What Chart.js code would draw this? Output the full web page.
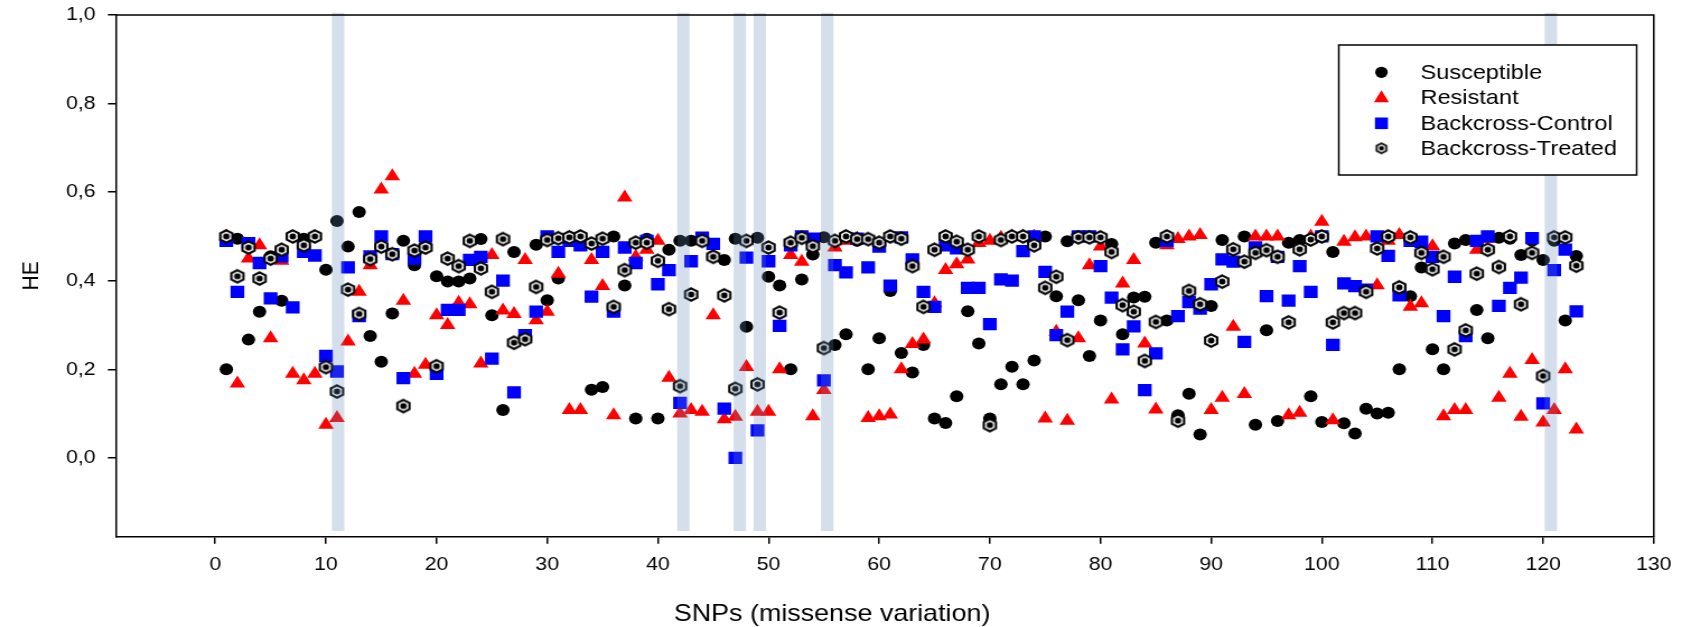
<!DOCTYPE html>
<html>
<head>
<meta charset="utf-8">
<title>HE per SNP</title>
<script src="https://cdn.jsdelivr.net/npm/chart.js@4.4.1/dist/chart.umd.min.js"></script>
<style>
  html, body { margin: 0; padding: 0; background: #fff; }
</style>
</head>
<body>
<!-- the original figure is stretched sideways, so the canvas is drawn narrower and widened by css -->
<canvas id="heChart" width="1502" height="627" style="width:1682px;height:627px"></canvas>
<script>
const snps = Array.from({ length: 123 }, (_, i) => i + 1);

const susceptible = [
  0.20, 0.495, 0.267, 0.33, 0.455, 0.355, 0.5, 0.495, 0.5, 0.425,
  0.535, 0.477, 0.555, 0.275, 0.217, 0.326, 0.49, 0.435, 0.48, 0.41,
  0.398, 0.398, 0.405, 0.494, 0.322, 0.108, 0.465, 0.27, 0.481, 0.356,
  0.405, 0.498, 0.5, 0.154, 0.16, 0.5, 0.389, 0.089, 0.495, 0.089,
  0.47, 0.49, 0.49, 0.49, 0.455, 0.447, 0.495, 0.296, 0.497, 0.409,
  0.389, 0.2, 0.403, 0.459, 0.498, 0.255, 0.279, 0.49, 0.2, 0.27,
  0.377, 0.237, 0.193, 0.255, 0.089, 0.079, 0.139, 0.331, 0.258, 0.089,
  0.166, 0.206, 0.166, 0.22, 0.5, 0.365, 0.489, 0.356, 0.23, 0.31,
  0.483, 0.279, 0.362, 0.364, 0.486, 0.31, 0.096, 0.145, 0.053, 0.343,
  0.492, 0.47, 0.5, 0.075, 0.288, 0.083, 0.486, 0.492, 0.139, 0.081,
  0.465, 0.078, 0.055, 0.111, 0.1, 0.102, 0.2, 0.365, 0.43, 0.245,
  0.2, 0.484, 0.492, 0.334, 0.27, 0.497, 0.495, 0.458, 0.49, 0.447,
  0.49, 0.31, 0.456
];

const resistant = [
  0.5, 0.168, 0.45, 0.48, 0.27, 0.445, 0.19, 0.175, 0.19, 0.075,
  0.09, 0.263, 0.375, 0.435, 0.606, 0.636, 0.355, 0.19, 0.21, 0.322,
  0.3, 0.35, 0.347, 0.213, 0.458, 0.333, 0.325, 0.447, 0.311, 0.33,
  0.416, 0.108, 0.108, 0.447, 0.388, 0.096, 0.588, 0.454, 0.47, 0.49,
  0.181, 0.1, 0.108, 0.104, 0.322, 0.087, 0.093, 0.205, 0.104, 0.104,
  0.2, 0.458, 0.443, 0.094, 0.153, 0.475, 0.49, 0.495, 0.09, 0.094,
  0.098, 0.2, 0.257, 0.267, 0.349, 0.424, 0.437, 0.448, 0.485, 0.49,
  0.497, 0.5, 0.5, 0.5, 0.089, 0.285, 0.084, 0.27, 0.435, 0.477,
  0.132, 0.394, 0.447, 0.258, 0.109, 0.48, 0.494, 0.5, 0.503, 0.108,
  0.136, 0.296, 0.144, 0.5, 0.5, 0.5, 0.096, 0.102, 0.5, 0.533,
  0.085, 0.488, 0.498, 0.5, 0.39, 0.49, 0.503, 0.341, 0.349, 0.478,
  0.094, 0.108, 0.108, 0.47, 0.495, 0.136, 0.19, 0.093, 0.221, 0.08,
  0.108, 0.2, 0.064
];

const backcrossControl = [
  0.49, 0.375, 0.485, 0.44, 0.36, 0.455, 0.34, 0.465, 0.457, 0.23,
  0.195, 0.43, 0.32, 0.455, 0.5, 0.46, 0.18, 0.45, 0.5, 0.19,
  0.334, 0.334, 0.447, 0.454, 0.224, 0.4, 0.148, 0.277, 0.33, 0.5,
  0.465, 0.49, 0.48, 0.364, 0.465, 0.33, 0.475, 0.44, 0.49, 0.392,
  0.424, 0.124, 0.444, 0.497, 0.483, 0.111, 0.0, 0.452, 0.062, 0.444,
  0.298, 0.48, 0.5, 0.495, 0.175, 0.435, 0.419, 0.495, 0.43, 0.477,
  0.389, 0.498, 0.448, 0.375, 0.341, 0.48, 0.473, 0.384, 0.384, 0.302,
  0.403, 0.4, 0.467, 0.5, 0.42, 0.277, 0.33, 0.5, 0.5, 0.433,
  0.362, 0.245, 0.297, 0.153, 0.236, 0.49, 0.32, 0.352, 0.337, 0.392,
  0.448, 0.443, 0.262, 0.475, 0.365, 0.454, 0.355, 0.433, 0.375, 0.5,
  0.255, 0.394, 0.388, 0.38, 0.5, 0.456, 0.367, 0.49, 0.488, 0.454,
  0.32, 0.409, 0.275, 0.49, 0.5, 0.343, 0.384, 0.407, 0.496, 0.123,
  0.424, 0.47, 0.331
];

const backcrossTreated = [
  0.5, 0.41, 0.475, 0.405, 0.45, 0.47, 0.5, 0.48, 0.5, 0.205,
  0.15, 0.38, 0.325, 0.449, 0.477, 0.46, 0.117, 0.468, 0.475, 0.207,
  0.45, 0.433, 0.49, 0.428, 0.375, 0.494, 0.26, 0.268, 0.386, 0.492,
  0.496, 0.498, 0.5, 0.484, 0.495, 0.341, 0.424, 0.486, 0.486, 0.445,
  0.336, 0.162, 0.369, 0.49, 0.454, 0.367, 0.156, 0.49, 0.166, 0.475,
  0.328, 0.486, 0.497, 0.478, 0.248, 0.49, 0.5, 0.494, 0.494, 0.486,
  0.5, 0.495, 0.433, 0.341, 0.47, 0.5, 0.488, 0.47, 0.5, 0.074,
  0.492, 0.5, 0.5, 0.48, 0.384, 0.409, 0.266, 0.498, 0.498, 0.498,
  0.465, 0.345, 0.33, 0.219, 0.307, 0.5, 0.084, 0.377, 0.347, 0.265,
  0.398, 0.471, 0.443, 0.463, 0.469, 0.454, 0.306, 0.471, 0.493, 0.5,
  0.306, 0.327, 0.327, 0.375, 0.473, 0.5, 0.385, 0.498, 0.463, 0.426,
  0.454, 0.245, 0.288, 0.416, 0.47, 0.431, 0.5, 0.347, 0.463, 0.185,
  0.498, 0.498, 0.434
];

// highlighted SNP columns (shaded bands)
const highlightSnps = [11.1, 42.3, 47.4, 49.2, 55.3, 120.7];

const xTicks = [0, 10, 20, 30, 40, 50, 60, 70, 80, 90, 100, 110, 120, 130];
const yTicks = [0, 0.2, 0.4, 0.6, 0.8, 1.0];
const yTickLabels = ["0,0", "0,2", "0,4", "0,6", "0,8", "1,0"];

const seriesNames = ["Susceptible", "Resistant", "Backcross-Control", "Backcross-Treated"];
const xTitle = "SNPs (missense variation)";

Chart.defaults.font.family = "'Liberation Sans', Arial, sans-serif";
Chart.defaults.color = "#000";

// hexagon with a dot, used for Backcross-Treated
function makeHexagon(r, lw, dot) {
    const size = Math.ceil(2 * r + lw + 2);
    const c = document.createElement("canvas");
    c.width = size;
    c.height = size;
    const g = c.getContext("2d");
    const cx = size / 2, cy = size / 2;
    g.beginPath();
    for (let i = 0; i < 6; i++) {
        const a = -Math.PI / 2 + i * Math.PI / 3;
        const px = cx + r * Math.cos(a), py = cy + r * Math.sin(a);
        if (i === 0) g.moveTo(px, py); else g.lineTo(px, py);
    }
    g.closePath();
    g.fillStyle = "#fff";
    g.fill();
    g.lineWidth = lw;
    g.strokeStyle = "#000";
    g.stroke();
    g.beginPath();
    g.arc(cx, cy, dot, 0, Math.PI * 2);
    g.fillStyle = "#000";
    g.fill();
    return c;
}

const hexMarker = makeHexagon(6.2, 2.1, 2.9);
const hexLegend = makeHexagon(5, 1.8, 2.3);

function toPoints(values) {
    return values.map((v, i) => ({ x: snps[i], y: v }));
}

const bandPlugin = {
    id: "bands",
    afterDatasetsDraw(chart) {
        const { ctx, scales: { x, y } } = chart;
        ctx.save();
        ctx.fillStyle = "rgba(95, 135, 180, 0.27)";
        const top = y.getPixelForValue(1.005);
        const bottom = y.getPixelForValue(-0.165);
        highlightSnps.forEach(c => {
            const x1 = x.getPixelForValue(c - 0.56);
            const x2 = x.getPixelForValue(c + 0.56);
            ctx.fillRect(x1, top, x2 - x1, bottom - top);
        });
        ctx.restore();
    }
};

// closes the box on top and right, and writes the x title a bit left of centre like the original
const framePlugin = {
    id: "frame",
    afterDraw(chart) {
        const { ctx, chartArea: a } = chart;
        ctx.save();
        ctx.strokeStyle = "#000";
        ctx.lineWidth = 1.5;
        ctx.beginPath();
        ctx.moveTo(a.left, a.top);
        ctx.lineTo(a.right, a.top);
        ctx.lineTo(a.right, a.bottom);
        ctx.stroke();

        ctx.fillStyle = "#000";
        ctx.font = "24px 'Liberation Sans', Arial, sans-serif";
        ctx.textAlign = "center";
        ctx.textBaseline = "middle";
        ctx.fillText(xTitle, 743, 614);
        ctx.restore();
    }
};

const legendPlugin = {
    id: "boxLegend",
    afterDraw(chart) {
        const ctx = chart.ctx;
        ctx.save();
        ctx.fillStyle = "#fff";
        ctx.fillRect(1195.5, 45, 266, 130);
        ctx.strokeStyle = "#000";
        ctx.lineWidth = 1.5;
        ctx.strokeRect(1195.5, 45, 266, 130);

        const mx = 1233.6, tx = 1268.5;
        const rows = [72.3, 97.7, 123.3, 148.3];

        ctx.fillStyle = "#000";
        ctx.beginPath();
        ctx.arc(mx, rows[0], 5.6, 0, Math.PI * 2);
        ctx.fill();

        ctx.fillStyle = "#ff0000";
        ctx.beginPath();
        ctx.moveTo(mx, rows[1] - 7.5);
        ctx.lineTo(mx + 6.7, rows[1] + 4.5);
        ctx.lineTo(mx - 6.7, rows[1] + 4.5);
        ctx.closePath();
        ctx.fill();

        ctx.fillStyle = "#0000ff";
        ctx.fillRect(mx - 5.8, rows[2] - 5.8, 11.6, 11.6);

        ctx.drawImage(hexLegend, mx - hexLegend.width / 2, rows[3] - hexLegend.height / 2);

        ctx.fillStyle = "#000";
        ctx.font = "21px 'Liberation Sans', Arial, sans-serif";
        ctx.textBaseline = "middle";
        seriesNames.forEach((name, i) => ctx.fillText(name, tx, rows[i] + 1));
        ctx.restore();
    }
};

new Chart(document.getElementById("heChart"), {
    type: "scatter",
    data: {
        datasets: [
            {
                label: seriesNames[0],
                data: toPoints(susceptible),
                pointStyle: "circle",
                pointRadius: 6,
                backgroundColor: "#000",
                borderWidth: 0,
                order: 4
            },
            {
                label: seriesNames[1],
                data: toPoints(resistant),
                pointStyle: "triangle",
                pointRadius: 8,
                backgroundColor: "#ff0000",
                borderWidth: 0,
                order: 3
            },
            {
                label: seriesNames[2],
                data: toPoints(backcrossControl),
                pointStyle: "rect",
                pointRadius: 8.7,
                backgroundColor: "#0000ff",
                borderWidth: 0,
                order: 2
            },
            {
                label: seriesNames[3],
                data: toPoints(backcrossTreated),
                pointStyle: hexMarker,
                pointRadius: 6.5,
                borderWidth: 0,
                order: 1
            }
        ]
    },
    options: {
        responsive: false,
        devicePixelRatio: 1,
        animation: false,
        layout: { padding: { left: 0, top: 15, right: 25.2, bottom: 0 } },
        plugins: {
            legend: { display: false },
            tooltip: { enabled: false }
        },
        scales: {
            x: {
                type: "linear",
                min: -9,
                max: 130,
                afterBuildTicks: s => { s.ticks = xTicks.map(v => ({ value: v })); },
                afterFit: s => { s.height = 90.3; s.paddingLeft = 0; s.paddingRight = 0; },
                ticks: { font: { size: 19 }, color: "#000", padding: 10, maxRotation: 0, autoSkip: false },
                grid: { drawOnChartArea: false, drawTicks: true, tickLength: 7, color: "#000", lineWidth: 1.5 },
                border: { display: true, color: "#000", width: 1.5 },
                title: { display: false, text: xTitle }
            },
            y: {
                min: -0.178,
                max: 1.0,
                afterBuildTicks: s => { s.ticks = yTicks.map(v => ({ value: v })); },
                afterFit: s => { s.width = 103.3; s.paddingTop = 0; s.paddingBottom = 0; },
                ticks: {
                    font: { size: 19 },
                    color: "#000",
                    padding: 11,
                    callback: (value, index) => yTickLabels[index]
                },
                grid: { drawOnChartArea: false, drawTicks: true, tickLength: 7, color: "#000", lineWidth: 1.5 },
                border: { display: true, color: "#000", width: 1.5 },
                title: {
                    display: true,
                    text: "HE",
                    font: { size: 21 },
                    color: "#000",
                    padding: { top: 16, bottom: 0 }
                }
            }
        }
    },
    plugins: [bandPlugin, framePlugin, legendPlugin]
});
</script>
</body>
</html>
